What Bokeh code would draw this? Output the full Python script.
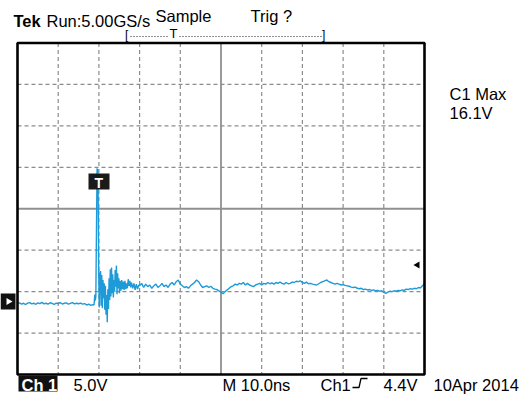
from bokeh.plotting import figure
from bokeh.models import Range1d, Label
from bokeh.embed import file_html
from bokeh.resources import INLINE

# ---------------- data ----------------
# time (ns, trigger at 0) and voltage (V) of channel 1
time_ns = [
    -20.0, -19.5, -19.0, -18.5, -18.0, -17.5, -17.0, -16.5, -16.0, -15.5,
    -15.0, -14.5, -14.0, -13.5, -13.0, -12.5, -12.0, -11.5, -11.0, -10.5,
    -10.0, -9.5, -9.0, -8.5, -8.0, -7.5, -7.0, -6.5, -6.0, -5.5,
    -5.0, -4.5, -4.0, -3.5, -3.0, -2.5, -2.0, -1.5, -1.2,
    -1.0, -0.9, -0.75, -0.6, -0.45, -0.35, -0.25, -0.15, -0.05,
    0.05, 0.10, 0.20, 0.30, 0.40, 0.55, 0.70, 0.85, 1.00, 1.15,
    1.30, 1.45, 1.60, 1.75, 1.90, 2.05, 2.20, 2.35, 2.50, 2.65,
    2.80, 2.95, 3.10, 3.25, 3.40, 3.55, 3.70, 3.85, 4.00, 4.15,
    4.30, 4.45, 4.60, 4.75, 4.90, 5.05, 5.20, 5.40, 5.60, 5.80,
    6.00, 6.20, 6.40, 6.60, 6.80, 7.00, 7.20, 7.40, 7.60, 7.80,
    8.00, 8.30, 8.60, 8.90, 9.20, 9.50, 9.80,
    10.0, 10.5, 11.0, 11.5, 12.0, 12.5, 13.0, 13.5, 14.0, 14.5,
    15.0, 15.5, 16.0, 16.5, 17.0, 17.5, 18.0, 18.5, 19.0, 19.5,
    20.0, 20.5, 21.0, 21.5, 22.0, 22.5, 23.0, 23.5, 24.0, 24.5,
    25.0, 25.5, 26.0, 26.5, 27.0, 27.5, 28.0, 28.5, 29.0, 29.5,
    30.0, 30.5, 31.0, 31.5, 32.0, 32.5, 33.0, 33.5, 34.0, 34.5,
    35.0, 35.5, 36.0, 36.5, 37.0, 37.5, 38.0, 38.5, 39.0, 39.5,
    40.0, 40.5, 41.0, 41.5, 42.0, 42.5, 43.0, 43.5, 44.0, 44.5,
    45.0, 45.5, 46.0, 46.5, 47.0, 47.5, 48.0, 48.5, 49.0, 49.5,
    50.0, 50.5, 51.0, 51.5, 52.0, 52.5, 53.0, 53.5, 54.0, 54.5,
    55.0, 55.5, 56.0, 56.5, 57.0, 57.5, 58.0, 58.5, 59.0, 59.5,
    60.0, 60.5, 61.0, 61.5, 62.0, 62.5, 63.0, 63.5, 64.0, 64.5,
    65.0, 65.5, 66.0, 66.5, 67.0, 67.5, 68.0, 68.5, 69.0, 69.5,
    70.0, 70.5, 71.0, 71.5, 72.0, 72.5, 73.0, 73.5, 74.0, 74.5,
    75.0, 75.5, 76.0, 76.5, 77.0, 77.5, 78.0, 78.5, 79.0, 79.5, 80.0,
]
volts = [
    -0.24, -0.15, -0.30, -0.20, -0.36, -0.18, -0.12, -0.27, -0.20, -0.33,
    -0.15, -0.24, -0.10, -0.28, -0.20, -0.30, -0.14, -0.22, -0.35, -0.18,
    -0.25, -0.12, -0.30, -0.20, -0.16, -0.32, -0.22, -0.12, -0.28, -0.20,
    -0.26, -0.18, -0.30, -0.24, -0.42, -0.30, -0.45, -0.36, -0.42,
    0.85, 0.10, 0.60, 8.5, 16.1, 12.4, 16.0, 11.0, 4.0,
    0.2, -0.7, 3.5, 1.0, 3.7, -0.5, 3.2, -0.8, 2.6, 0.4,
    2.2, -1.0, 1.9, -1.6, 0.8, -2.5, 1.5, -0.9, 2.8, 0.2,
    3.9, 0.6, 4.1, 1.0, 3.3, 0.5, 2.6, 1.2, 3.8, 1.8,
    4.35, 0.9, 3.4, 1.6, 2.8, 1.0, 2.5, 1.3, 2.6, 1.5,
    2.4, 1.4, 2.5, 1.5, 2.2, 1.6, 2.7, 1.9, 2.5, 1.7,
    2.3, 1.6, 2.2, 1.4, 2.1, 1.5, 2.0,
    1.9, 2.2, 1.7, 2.1, 1.8, 2.0, 1.6, 1.9, 2.1, 1.7,
    1.9, 2.2, 1.8, 2.0, 1.7, 2.1, 2.3, 2.0, 2.4, 2.6,
    2.1, 1.9, 1.7, 1.8, 1.6, 1.9, 2.1, 2.3, 2.6, 2.4,
    2.0, 1.7, 1.8, 1.9, 1.7, 1.85, 1.6, 1.5, 1.45, 1.3,
    1.1, 0.95, 1.2, 1.4, 1.6, 1.8, 1.9, 2.1, 2.0, 2.2,
    2.1, 2.3, 2.0, 2.2, 2.0, 1.9, 1.8, 2.0, 2.1, 2.2,
    2.0, 2.2, 2.1, 2.3, 2.15, 2.25, 2.1, 2.3, 2.2, 2.35,
    2.2, 2.1, 2.3, 2.15, 2.2, 2.35, 2.3, 2.45, 2.4, 2.5,
    2.3, 2.2, 2.35, 2.15, 2.2, 2.1, 2.05, 2.0, 2.15, 2.3,
    2.4, 2.5, 2.6, 2.4, 2.3, 2.2, 2.1, 2.2, 2.1, 2.0,
    2.05, 1.95, 1.9, 1.85, 1.75, 1.7, 1.75, 1.6, 1.55, 1.6,
    1.45, 1.5, 1.4, 1.45, 1.35, 1.4, 1.3, 1.35, 1.25, 1.3,
    1.1, 1.0, 1.15, 1.25, 1.2, 1.3, 1.25, 1.35, 1.3, 1.4,
    1.35, 1.5, 1.45, 1.55, 1.5, 1.6, 1.55, 1.7, 1.65, 1.9, 2.2,
]

NS_PER_DIV = 10.0
V_PER_DIV = 5.0
T_LEFT = -20.0          # time at left edge of graticule
V_BOTTOM = -8.8         # volts at bottom edge of graticule
N_HDIV = 10
N_VDIV = 8
TRIG_LEVEL = 4.4
TRIG_TIME = 0.0
MAX_V = 16.1

# ---------------- layout (pixels of the 532x394 window) ----------------
GX0, GX1 = 17.0, 424.0      # graticule left/right
GY0, GY1 = 42.5, 374.0      # graticule top/bottom
CX0, CX1 = 0.0, 532.0       # canvas extent in window
CY0, CY1 = 0.0, 394.0
TEXT_DY = -4.5              # compensation for label baseline placement
px_per_ns = (GX1 - GX0) / (N_HDIV * NS_PER_DIV)
px_per_v = (GY1 - GY0) / (N_VDIV * V_PER_DIV)
T_RIGHT = T_LEFT + N_HDIV * NS_PER_DIV
V_TOP = V_BOTTOM + N_VDIV * V_PER_DIV


def tx(px):
    return T_LEFT + (px - GX0) / px_per_ns


def vy(py):
    return V_TOP - (py - GY0) / px_per_v


FONT = "Liberation Sans"

p = figure(width=int(CX1 - CX0), height=int(CY1 - CY0),
           x_range=Range1d(tx(CX0), tx(CX1)), y_range=Range1d(vy(CY1), vy(CY0)),
           x_axis_type=None, y_axis_type=None, toolbar_location=None,
           output_backend="svg", min_border=0)
p.min_border_left = p.min_border_right = p.min_border_top = p.min_border_bottom = 0
p.outline_line_color = None
p.xgrid.visible = False
p.ygrid.visible = False
p.background_fill_color = "white"
p.border_fill_color = "white"

# graticule
vt = [T_LEFT + k * NS_PER_DIV for k in range(1, N_HDIV)]
hv = [V_BOTTOM + k * V_PER_DIV for k in range(1, N_VDIV)]
t_mid = T_LEFT + N_HDIV / 2 * NS_PER_DIV
v_mid = V_BOTTOM + N_VDIV / 2 * V_PER_DIV
vt_d = [t for t in vt if abs(t - t_mid) > 1e-6]
hv_d = [v for v in hv if abs(v - v_mid) > 1e-6]
p.segment(x0=vt_d, x1=vt_d, y0=[V_TOP] * len(vt_d), y1=[V_BOTTOM] * len(vt_d),
          line_color="#8c8c8c", line_width=1.2, line_dash="4 3")
p.segment(x0=[T_LEFT] * len(hv_d), x1=[T_RIGHT] * len(hv_d), y0=hv_d, y1=hv_d,
          line_color="#8c8c8c", line_width=1.2, line_dash="4 3")
p.segment(x0=[t_mid, T_LEFT], x1=[t_mid, T_RIGHT], y0=[V_BOTTOM, v_mid], y1=[V_TOP, v_mid],
          line_color="#909090", line_width=1.8)

# waveform
p.line(time_ns, volts, line_color="#1e9ad8", line_width=1.4)

# border
p.quad(left=[T_LEFT], right=[T_RIGHT], bottom=[V_BOTTOM], top=[V_TOP],
       fill_color=None, line_color="black", line_width=2.6)

# ground marker (left)
p.quad(left=[tx(CX0)], right=[tx(15)], bottom=[vy(309)], top=[vy(293)],
       fill_color="#111111", line_color=None)
p.scatter([tx(8)], [0.0], marker="triangle", angle=-1.5708, size=7,
          fill_color="white", line_color=None)

# trigger level marker (right)
p.scatter([tx(417)], [TRIG_LEVEL], marker="triangle", angle=1.5708, size=7,
          fill_color="black", line_color=None)

# trigger time marker box
p.quad(left=[tx(88)], right=[tx(109)], bottom=[vy(189)], top=[vy(173)],
       fill_color="#1a1a1a", line_color=None)
p.add_layout(Label(x=TRIG_TIME, y=vy(187 + TEXT_DY), text="T", text_color="white",
                   text_font=FONT, text_font_size="14px", text_font_style="bold",
                   text_align="center", text_baseline="alphabetic"))


# texts
def lab(x, y, text, size="16.5px", style="normal", color="black", align="left"):
    p.add_layout(Label(x=tx(x), y=vy(y + TEXT_DY), text=text, text_font=FONT,
                       text_font_size=size, text_font_style=style,
                       text_color=color, text_align=align,
                       text_baseline="alphabetic"))


lab(13, 25, "Tek", style="bold")
lab(46, 25, "Run:5.00GS/s")
lab(155, 20, "Sample")
lab(250, 20, "Trig ?")
lab(124.5, 38.5, "[", size="12px")
lab(321.5, 38.5, "]", size="12px")
lab(169, 37.5, "T", size="13px")
p.segment(x0=[tx(130), tx(179)], x1=[tx(168), tx(321)], y0=[vy(36)] * 2, y1=[vy(36)] * 2,
          line_color="#222222", line_width=1, line_dash="1 2")

lab(449, 98, "C1 Max")
lab(449, 117, "%.1fV" % MAX_V)

p.quad(left=[tx(18)], right=[tx(57)], bottom=[vy(391)], top=[vy(375)],
       fill_color="#111111", line_color=None)
lab(21, 389, "Ch 1", style="bold", color="white")
lab(73, 389, "%.1fV" % V_PER_DIV)
lab(222, 389, "M %.1fns" % NS_PER_DIV)
lab(320, 389, "Ch1")
p.line([tx(352), tx(358.5), tx(360.5), tx(367)], [vy(387), vy(387), vy(378), vy(378)],
       line_color="black", line_width=1.3)
lab(383, 389, "%.1fV" % TRIG_LEVEL)
lab(433, 389, "10Apr 2014")

open("out.html", "w").write(file_html(p, INLINE))
